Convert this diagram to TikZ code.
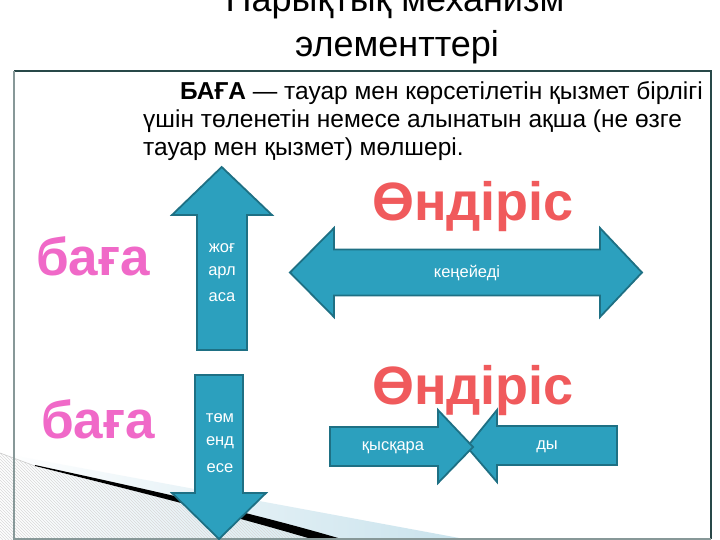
\documentclass[tikz,border=0pt]{standalone}
\usepackage{fontspec}
\setmainfont{Liberation Sans}
\usetikzlibrary{patterns}
\definecolor{arrfill}{RGB}{44,160,190}
\definecolor{arrline}{RGB}{30,112,132}
\definecolor{prodred}{RGB}{240,90,92}
\definecolor{pricepink}{RGB}{240,105,200}
\definecolor{boxtop}{RGB}{40,72,72}
\definecolor{boxleft}{RGB}{135,152,152}
\definecolor{swooshblue}{RGB}{200,226,236}
\tikzset{
  arrowshape/.style={fill=arrfill, draw=arrline, line width=1.8pt, line join=miter},
  arrowtext/.style={text=white, font=\fontsize{16.5}{19}\selectfont, inner sep=0pt},
  prodtext/.style={text=prodred, font=\fontsize{54}{58}\selectfont\bfseries, anchor=base, inner sep=0pt},
  pricetext/.style={text=pricepink, font=\fontsize{53}{57}\selectfont\bfseries, anchor=base, inner sep=0pt},
  bodytext/.style={font=\fontsize{24.5}{28}\selectfont, anchor=base west, inner sep=0pt},
  titletext/.style={font=\fontsize{36}{40}\selectfont, anchor=base, inner sep=0pt}
}
\begin{document}
\begin{tikzpicture}[x=1pt,y=-1pt]
\useasboundingbox (0,0) rectangle (720,540);
\fill[white] (0,0) rectangle (720,540);
% decoration bottom left
\shade[left color=white, right color=swooshblue] (0,453) -- (470,540) -- (0,540) -- cycle;
\fill[pattern=north west lines, pattern color=gray!30] (0,453) -- (35,466) .. controls (140,492) and (230,515) .. (315,540) -- (0,540) -- cycle;
\draw[gray!40, line width=0.6pt] (0,453) -- (35,466);
\fill[black] (35,465) .. controls (150,490) and (250,512) .. (345,540) -- (315,540) .. controls (230,515) and (140,492) .. (35,466) -- cycle;
% box
\draw[boxtop, line width=1.2pt] (14,71) -- (711,71) -- (711,539);
\draw[boxleft, line width=1.8pt] (14,71) -- (14,539) -- (711,539);
% title
\node[titletext] (title1) at (395,12) {Нарықтық механизм};
\node[titletext] (title2) at (397,57) {элементтері};
% body
\node[bodytext] (body1) at (180,100) {\textbf{БАҒА} — тауар мен көрсетілетін қызмет бірлігі};
\node[bodytext] (body2) at (143,128) {үшін төленетін немесе алынатын ақша (не өзге};
\node[bodytext] (body3) at (143,156) {тауар мен қызмет) мөлшері.};
% labels
\node[pricetext] (price1) at (93,275) {баға};
\node[pricetext] (price2) at (98,438) {баға};
\node[prodtext] (prod1) at (473,221) {Өндіріс};
\node[prodtext] (prod2) at (473,404) {Өндіріс};
% up arrow
\draw[arrowshape] (221.7,167) -- (272,215) -- (247,215) -- (247,350) -- (197,350) -- (197,215) -- (172,215) -- cycle;
\node[arrowtext] (up1) at (222,248) {жоғ};
\node[arrowtext] (up2) at (222,273) {арл};
\node[arrowtext] (up3) at (222,297) {аса};
% double arrow
\draw[arrowshape] (290,272.5) -- (334,228) -- (334,249.5) -- (600,249.5) -- (600,228) -- (642,272.5) -- (600,317) -- (600,295.5) -- (334,295.5) -- (334,317) -- cycle;
\node[arrowtext] (expand) at (467,273) {кеңейеді};
% down arrow
\draw[arrowshape] (195,375) -- (243,375) -- (243,493) -- (266,493) -- (219,539) -- (172,493) -- (195,493) -- cycle;
\node[arrowtext] (dn1) at (220,418) {төм};
\node[arrowtext] (dn2) at (220,443) {енд};
\node[arrowtext] (dn3) at (220,468) {есе};
% converging arrows
\draw[arrowshape] (617,426) -- (497,426) -- (497,410) -- (467,447) -- (497,482) -- (497,465) -- (617,465) -- cycle;
\draw[arrowshape] (330,427) -- (438,427) -- (438,410) -- (473,447) -- (438,483) -- (438,466) -- (330,466) -- cycle;
\node[arrowtext] (shrink1) at (393,448) {қысқара};
\node[arrowtext] (shrink2) at (547,447) {ды};
\end{tikzpicture}
\end{document}
